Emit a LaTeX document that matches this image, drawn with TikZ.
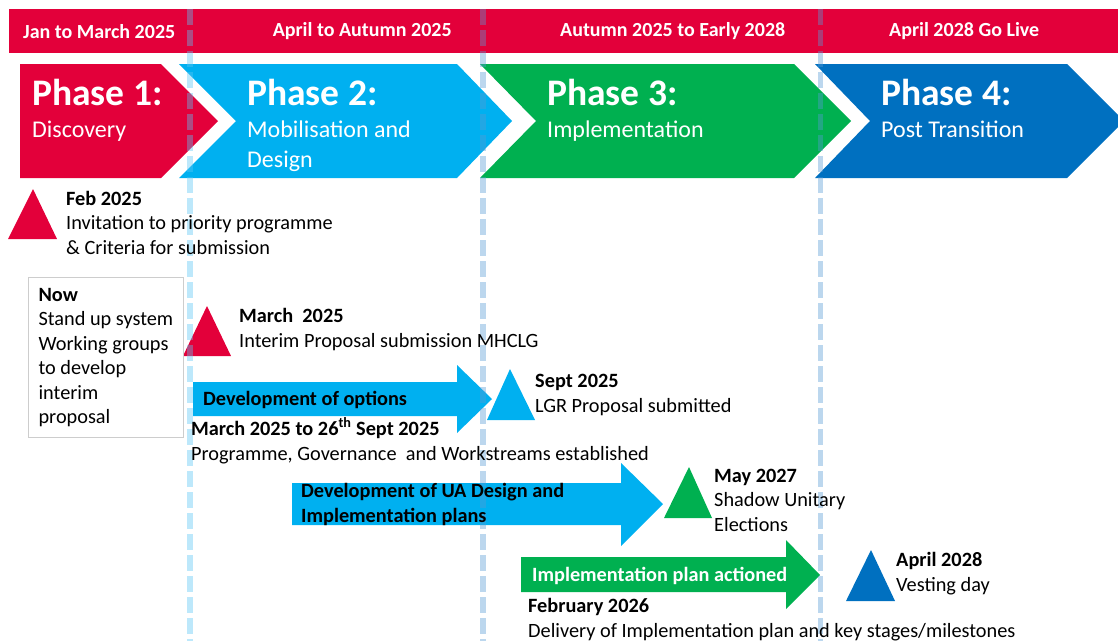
\documentclass[tikz,border=0pt]{standalone}
\usepackage{fontspec}
\setmainfont{Carlito}
\usetikzlibrary{positioning}

\definecolor{lgrred}{RGB}{227,0,58}
\definecolor{skyblue}{RGB}{0,176,240}
\definecolor{leafgreen}{RGB}{0,176,80}
\definecolor{deepblue}{RGB}{0,112,192}
\definecolor{guideblue}{RGB}{87,154,212}
\definecolor{guidesky}{RGB}{90,197,244}
\definecolor{boxgray}{RGB}{205,205,205}

\newcommand\bodyfont{\fontsize{20.3}{24.5}\selectfont}
\newcommand\hdrfont{\fontsize{20}{24}\selectfont\bfseries}
\newcommand\phasefont{\fontsize{37.5}{40}\selectfont\bfseries}
\newcommand\subfont{\fontsize{24}{30}\selectfont}

\tikzset{
  period/.style={fill=lgrred, text=white, font=\hdrfont, minimum height=44pt,
    inner sep=0pt, anchor=north west},
  phasetitle/.style={text=white, font=\phasefont, anchor=base west, inner sep=0pt},
  phasesub/.style={text=white, font=\subfont, anchor=base west, inner sep=0pt, align=left},
  note/.style={font=\bodyfont, anchor=base west, inner sep=0pt, align=left},
  arrowlabel/.style={font=\bodyfont\bfseries, anchor=base west, inner sep=0pt, align=left},
  nowbox/.style={draw=boxgray, line width=0.8pt, fill=white, font=\bodyfont,
    minimum width=155pt, minimum height=160pt, align=left, anchor=north west},
  guide/.style={line width=5.5pt, dash pattern=on 16pt off 5pt, draw opacity=0.4},
}

\begin{document}
\begin{tikzpicture}[x=1pt,y=-1pt]
  \useasboundingbox (0,0) rectangle (1118,641);

  %% time bar
  \node[period, minimum width=180pt] (jan) at (9,9) {Jan to March 2025};
  \node[period, minimum width=346pt] (apr) at (189,9) {April to Autumn 2025};
  \node[period, minimum width=275pt] (aut) at (535,9) {Autumn 2025 to Early 2028};
  \node[period, minimum width=308pt] (live) at (810,9) {April 2028 Go Live};

  %% phase chevrons
  \fill[lgrred] (20,64) -- (161,64) -- (218,121) -- (161,178) -- (20,178) -- cycle;
  \fill[skyblue] (179,64) -- (457,64) -- (512,121) -- (457,178) -- (179,178) -- (236,121) -- cycle;
  \fill[leafgreen] (480,64) -- (794,64) -- (851,121) -- (794,178) -- (480,178) -- (536,121) -- cycle;
  \fill[deepblue] (815,64) -- (1067,64) -- (1124,121) -- (1067,178) -- (815,178) -- (870,121) -- cycle;

  %% block arrows
  \fill[skyblue] (193,382) -- (457,382) -- (457,365) -- (492,399) -- (457,433) -- (457,416) -- (193,416) -- cycle; %% options
  \fill[skyblue] (292,483) -- (621,483) -- (621,463) -- (663,504) -- (621,546) -- (621,525) -- (292,525) -- cycle; %% UA design
  \fill[leafgreen] (521,557) -- (786,557) -- (786,540) -- (820,575) -- (786,609) -- (786,592) -- (521,592) -- cycle; %% implementation

  %% milestones
  \fill[lgrred] (8,239) -- (33,189) -- (57,239) -- cycle; %% Feb 2025
  \fill[lgrred] (183,356) -- (207,306) -- (231,356) -- cycle; %% March 2025
  \fill[skyblue] (487,420) -- (510,369) -- (535,420) -- cycle; %% Sept 2025
  \fill[leafgreen] (664,518) -- (689,467) -- (712,518) -- cycle; %% May 2027
  \fill[deepblue] (846,601) -- (871,550) -- (895,601) -- cycle; %% April 2028

  \node[nowbox] (now) at (28,277) {\textbf{Now}\\Stand up system\\Working groups\\to develop\\interim\\proposal};

  %% dashed guides
  \draw[guide, guidesky] (190,9) -- (190,641);
  \draw[guide, guideblue] (483,9) -- (483,641);
  \draw[guide, guideblue] (820.5,9) -- (820.5,641);

  %% phase texts (base = last line)
  \node[phasetitle] (ph1) at (32,105) {Phase 1:};
  \node[phasesub] (ph1sub) at ([yshift=-32pt]ph1.base west) {Discovery};
  \node[phasetitle] (ph2) at (247,105) {Phase 2:};
  \node[phasesub] (ph2sub) at ([yshift=-62pt]ph2.base west) {Mobilisation and\\Design};
  \node[phasetitle] (ph3) at (547,105) {Phase 3:};
  \node[phasesub] (ph3sub) at ([yshift=-32pt]ph3.base west) {Implementation};
  \node[phasetitle] (ph4) at (881,105) {Phase 4:};
  \node[phasesub] (ph4sub) at ([yshift=-32pt]ph4.base west) {Post Transition};

  %% notes
  \node[note] (feb) at (66,254) {\textbf{Feb 2025}\\Invitation to priority programme\\\& Criteria for submission};
  \node[note] (mar) at (239,347) {\textbf{March\ \ 2025}\\Interim Proposal submission MHCLG};
  \node[arrowlabel] (optlbl) at (203,405) {Development of options};
  \node[note] (optdates) at (191,460) {\textbf{March 2025 to 26\textsuperscript{th} Sept 2025}\\Programme, Governance\ \ and Workstreams established};
  \node[note] (sept) at (535,412) {\textbf{Sept 2025}\\LGR Proposal submitted};
  \node[arrowlabel] (ualbl) at (301,522) {Development of UA Design and\\Implementation plans};
  \node[note] (may) at (714,531) {\textbf{May 2027}\\Shadow Unitary\\Elections};
  \node[arrowlabel, text=white] (impllbl) at (532,581) {Implementation plan actioned};
  \node[note] (feb26) at (528,637) {\textbf{February 2026}\\Delivery of Implementation plan and key stages/milestones};
  \node[note] (vest) at (896,591) {\textbf{April 2028}\\Vesting day};
\end{tikzpicture}
\end{document}
